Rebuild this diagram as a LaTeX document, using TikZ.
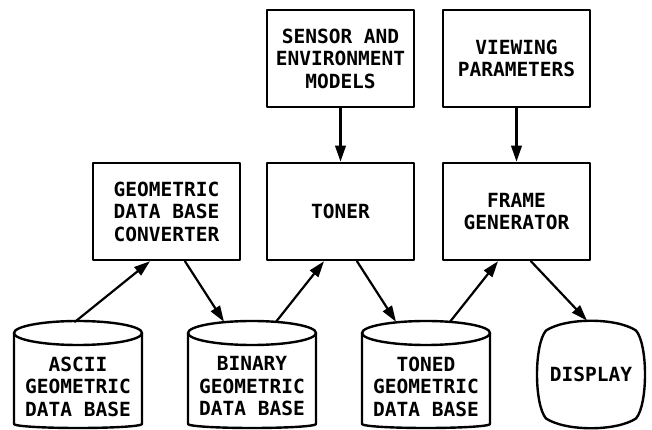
\documentclass[tikz,border=0pt]{standalone}
\usepackage{fontspec}
\setmonofont{DejaVu Sans Mono}
\usetikzlibrary{arrows.meta}

\begin{document}
\begin{tikzpicture}[x=1pt,y=1pt,line cap=round,line join=round,
  font=\ttfamily\bfseries\fontsize{19.5}{22.5}\selectfont,
  block/.style={draw,line width=2.6pt,rectangle,minimum width=147pt,minimum height=97pt,inner sep=0pt,align=center},
  store/.style={minimum width=128pt,minimum height=83pt,inner sep=0pt,align=center},
  outline/.style={line width=2.4pt},
  flow/.style={-{Triangle[length=16pt,width=10.5pt]},line width=2.2pt}]
\useasboundingbox (0,0) rectangle (652,430);
\node[block] (sensor) at (340.5,371.5) {SENSOR AND\\ENVIRONMENT\\MODELS};
\node[block] (viewing) at (516.5,371.5) {VIEWING\\PARAMETERS};
\node[block] (converter) at (166.5,218.5) {GEOMETRIC\\DATA BASE\\CONVERTER};
\node[block] (toner) at (340.5,218.5) {TONER};
\node[block] (frame) at (516.5,218.5) {FRAME\\GENERATOR};
\node[store] (ascii) at (78,43.5) {ASCII\\GEOMETRIC\\DATA BASE};
\node[store] (binary) at (252,43.5) {BINARY\\GEOMETRIC\\DATA BASE};
\node[store] (toned) at (426,43.5) {TONED\\GEOMETRIC\\DATA BASE};
\node[minimum width=108pt,minimum height=107.5pt,inner sep=0pt] (display) at (591,55.5) {DISPLAY};
\foreach \n in {ascii,binary,toned}{
  \draw[outline,shift={(\n.center)}] (0,53.5) ellipse [x radius=64,y radius=12];
  \draw[outline,shift={(\n.center)}] (-64,53.5) -- (-64,-37.5) arc[start angle=180,end angle=360,x radius=64,y radius=4] -- (64,53.5);
}
\coordinate (asciitop) at ([yshift=23pt]ascii.north);
\coordinate (binarytop) at ([yshift=23pt]binary.north);
\coordinate (tonedtop) at ([yshift=23pt]toned.north);
\draw[outline,shift={(display.center)}] (-45,44) .. controls (-25,57) and (25,57) .. (45,44)
  .. controls (57,30) and (57,-30) .. (45,-44) .. controls (25,-57) and (-25,-57) .. (-45,-44)
  .. controls (-57,-30) and (-57,30) .. cycle;
\draw[flow] (sensor) -- (toner);
\draw[flow] (viewing) -- (frame);
\draw[flow] ([xshift=-3pt]asciitop) -- ([xshift=-16.5pt]converter.south);
\draw[flow] ([xshift=18.5pt]converter.south) -- ([xshift=-28pt]binarytop);
\draw[flow] ([xshift=24pt]binarytop) -- ([xshift=-16.5pt]toner.south);
\draw[flow] ([xshift=16.5pt]toner.south) -- ([xshift=-30pt]tonedtop);
\draw[flow] ([xshift=24pt]tonedtop) -- ([xshift=-18.5pt]frame.south);
\draw[flow] ([xshift=14.5pt]frame.south) -- ([xshift=-4pt]display.north);
\end{tikzpicture}
\end{document}
